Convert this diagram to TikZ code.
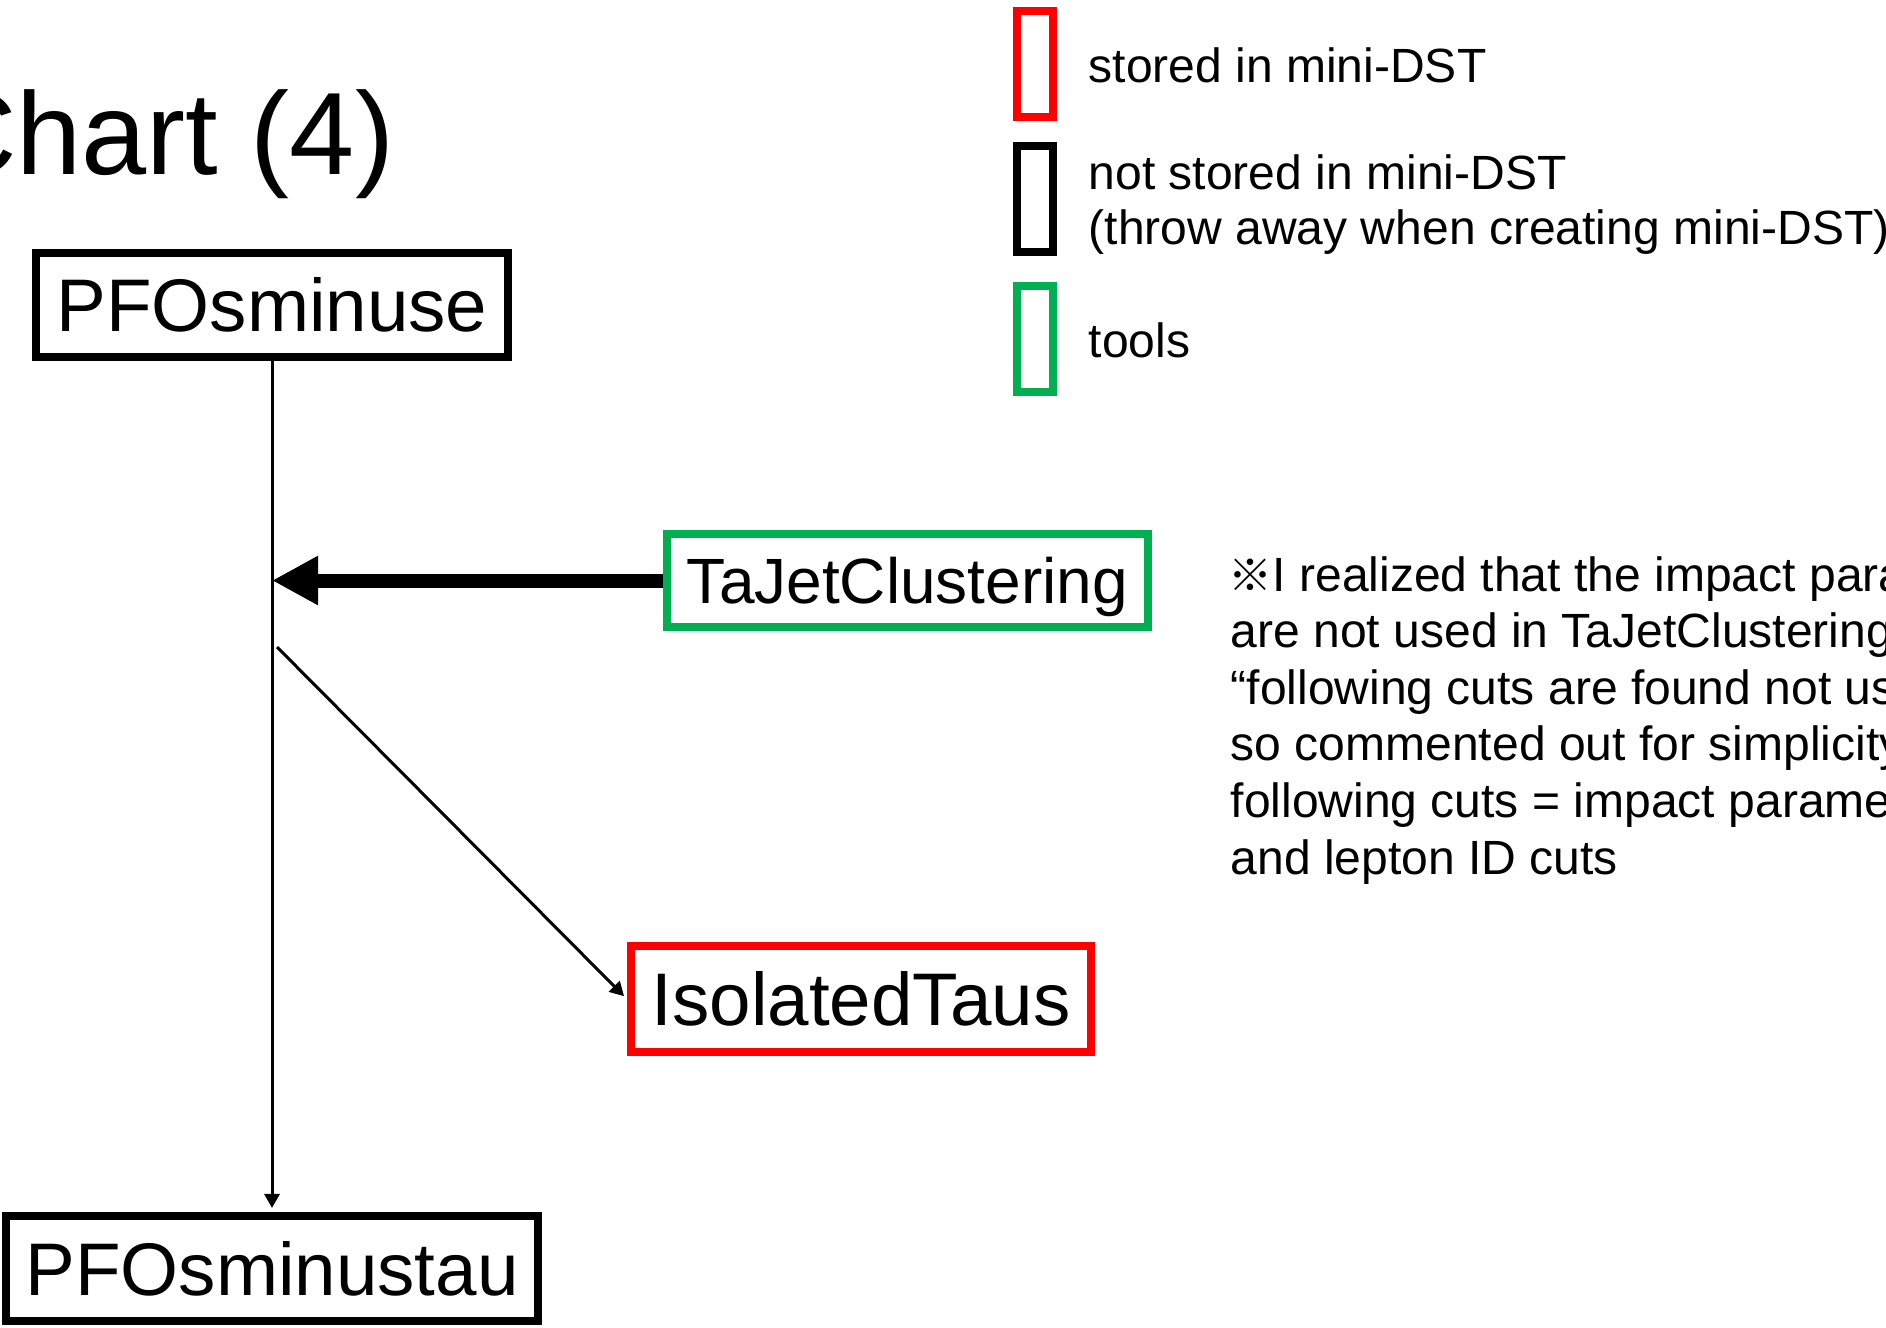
\documentclass[tikz,border=0pt]{standalone}
\usepackage{fontspec}
\setmainfont{Liberation Sans}
\newfontfamily\cjkfont{Noto Sans CJK JP}
\usetikzlibrary{arrows.meta}
\definecolor{storedred}{RGB}{255,0,0}
\definecolor{toolgreen}{RGB}{0,176,80}

\begin{document}
\begin{tikzpicture}[x=0.01cm, y=-0.01cm,
  chartbox/.style={draw, line width=0.08cm, inner sep=0pt,
    text height=15.2pt, text depth=0pt, font=\fontsize{21.2}{25}\selectfont},
  toolbox/.style={chartbox, draw=toolgreen,
    text height=13.0pt, font=\fontsize{18.2}{22}\selectfont},
  legkey/.style={draw, line width=0.08cm, inner sep=0pt,
    minimum width=0.36cm, minimum height=1.06cm},
  legtext/.style={anchor=base west, inner sep=0pt,
    font=\fontsize{13.66}{15.7}\selectfont},
  flow/.style={line width=0.03cm, -{Triangle[length=0.14cm,width=0.15cm]},
    shorten >=0.04cm},
  feed/.style={line width=0.14cm, -{Triangle[length=0.46cm,width=0.46cm]}}
]
\useasboundingbox (0,0) rectangle (1886,1327);

% heading
\node[anchor=base west, inner sep=0pt, font=\fontsize{33.3}{40}\selectfont]
  (title) at (-68.5,174) {Chart (4)};

% collections and processors
\node[chartbox, minimum width=4.71cm, minimum height=1.04cm] (pfouse) at (272,305) {PFOsminuse};
\node[chartbox, minimum width=5.32cm, minimum height=1.05cm] (pfotau) at (272,1268.5) {PFOsminustau};
\node[toolbox, minimum width=4.81cm, minimum height=0.93cm] (tajet) at (907.5,580.5) {TaJetClustering};
\node[chartbox, draw=storedred, minimum width=4.60cm, minimum height=1.06cm] (isotau) at (861,999) {IsolatedTaus};

% connectors
\draw[flow] (pfouse.south) -- (pfotau.north);
\draw[feed] (tajet.west) -- (tajet.west -| pfouse.south);
\coordinate (split) at (277,647);
\draw[flow] (split) -- (isotau.west);

% legend
\node[legkey, draw=storedred] (keyred) at (1035,64) {};
\node[legkey, draw=black] (keyblack) at (1035,199) {};
\node[legkey, draw=toolgreen] (keygreen) at (1035,339) {};
\node[legtext] (legred) at (1088,82) {stored in mini-DST};
\node[legtext] (legblack) at (1088,189) {not stored in mini-DST};
\node[legtext] (legblackb) at (1088,244) {(throw away when creating mini-DST)};
\node[legtext] (leggreen) at (1088,357) {tools};

% remark
\node[legtext] (note1) at (1228,591) {{\cjkfont\fontsize{12.5}{14}\selectfont ※}I realized that the impact para};
\node[legtext] (note2) at (1230,647.6) {are not used in TaJetClustering};
\node[legtext] (note3) at (1230,704.2) {“following cuts are found not us};
\node[legtext] (note4) at (1230,760.8) {so commented out for simplicity};
\node[legtext] (note5) at (1230,817.4) {following cuts = impact parame};
\node[legtext] (note6) at (1230,874) {and lepton ID cuts};
\end{tikzpicture}
\end{document}
